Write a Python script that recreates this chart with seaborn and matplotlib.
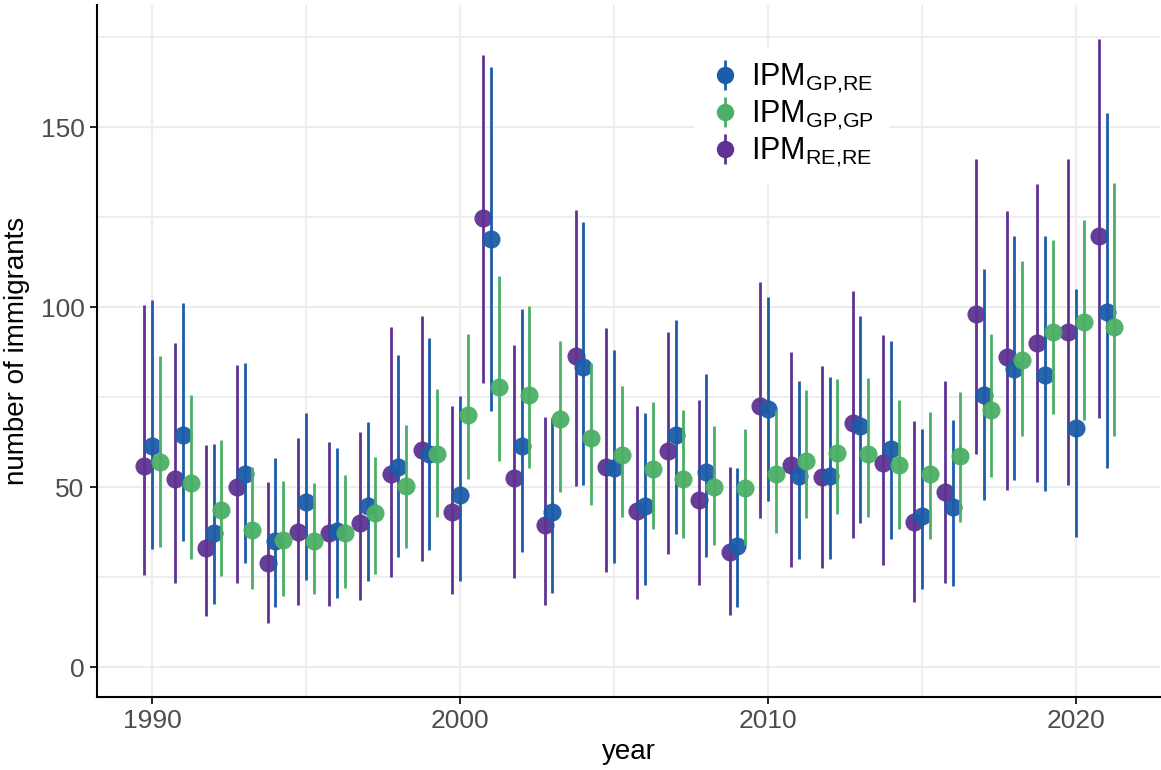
import numpy as np
import pandas as pd
import matplotlib
matplotlib.use("Agg")
import matplotlib.pyplot as plt
import seaborn as sns
from matplotlib.lines import Line2D
from matplotlib.legend_handler import HandlerTuple
from matplotlib.ticker import MultipleLocator

years = list(range(1990, 2022))

# IPM_RE,RE (purple)
re_re_mean = [55.9, 52.2, 33.2, 50.0, 28.9, 37.6, 37.2, 40.0, 53.6, 60.4, 43.1, 124.7, 52.5, 39.4, 86.3, 55.5,
              43.4, 59.9, 46.4, 31.9, 72.5, 56.0, 52.9, 67.7, 56.8, 40.2, 48.7, 98.2, 86.0, 89.9, 93.2, 119.8]
re_re_lo = [25.6, 23.4, 14.1, 23.5, 12.3, 17.2, 17.0, 18.6, 25.1, 29.4, 20.4, 78.8, 24.7, 17.2, 50.4, 26.5,
            18.8, 31.3, 22.9, 14.4, 41.3, 27.9, 27.4, 35.9, 28.3, 18.0, 23.4, 59.3, 49.2, 51.5, 50.6, 69.1]
re_re_hi = [100.7, 90.1, 61.7, 84.0, 51.5, 63.7, 62.6, 65.2, 94.4, 97.6, 72.6, 170.0, 89.4, 69.4, 126.9, 94.2,
            72.6, 93.1, 74.1, 55.6, 106.9, 87.6, 83.7, 104.6, 92.2, 68.4, 79.5, 141.0, 126.8, 134.1, 141.0, 174.5]

# IPM_GP,RE (blue)
gp_re_mean = [61.4, 64.4, 37.3, 53.5, 35.0, 45.9, 37.9, 44.8, 55.7, 59.1, 47.9, 118.8, 61.5, 43.0, 83.3, 55.4,
              44.7, 64.5, 54.3, 33.7, 71.8, 53.1, 53.2, 67.0, 60.7, 42.0, 44.5, 75.7, 82.8, 81.0, 66.5, 98.5]
gp_re_lo = [32.8, 35.1, 17.6, 28.8, 16.6, 24.3, 19.1, 24.0, 30.7, 32.5, 24.0, 71.1, 31.9, 20.7, 50.7, 28.8,
            22.7, 37.0, 30.5, 16.6, 46.1, 30.1, 29.9, 39.9, 35.6, 21.8, 22.5, 46.3, 51.9, 48.9, 36.2, 55.2]
gp_re_hi = [101.9, 101.1, 62.1, 84.6, 58.2, 70.5, 60.9, 68.0, 86.8, 91.5, 75.3, 166.8, 99.4, 69.1, 123.5, 88.1,
            70.6, 96.4, 81.4, 55.2, 102.7, 79.6, 80.6, 97.5, 90.6, 66.0, 68.7, 110.7, 119.8, 119.7, 104.9, 153.8]

# IPM_GP,GP (green)
gp_gp_mean = [56.9, 51.0, 43.6, 38.0, 35.3, 35.0, 37.3, 42.7, 50.3, 59.2, 69.9, 77.9, 75.7, 69.0, 63.7, 58.8,
              55.0, 52.2, 50.0, 49.8, 53.5, 57.2, 59.5, 59.3, 56.0, 53.7, 58.7, 71.4, 85.3, 93.2, 95.9, 94.6]
gp_gp_lo = [33.3, 30.0, 25.4, 21.8, 19.7, 20.3, 22.1, 26.0, 33.2, 41.8, 52.2, 57.3, 55.4, 48.7, 45.1, 41.7,
            38.4, 35.9, 33.8, 34.0, 37.3, 41.3, 42.4, 41.8, 38.5, 35.6, 40.2, 52.7, 64.1, 70.2, 68.7, 64.1]
gp_gp_hi = [86.4, 75.5, 63.1, 55.6, 51.7, 51.2, 53.4, 58.4, 67.3, 77.3, 92.5, 108.6, 100.4, 90.6, 84.6, 78.2,
            73.5, 71.5, 66.9, 66.0, 71.4, 76.9, 80.0, 80.3, 74.1, 70.9, 76.4, 92.5, 112.7, 118.6, 124.3, 134.6]

series_keys = ["RE,RE", "GP,RE", "GP,GP"]
series_labels = {"GP,RE": r"IPM$_{\mathrm{GP{,}RE}}$",
                 "GP,GP": r"IPM$_{\mathrm{GP{,}GP}}$",
                 "RE,RE": r"IPM$_{\mathrm{RE{,}RE}}$"}
colors = {"RE,RE": "#5E3393", "GP,RE": "#1C5CA8", "GP,GP": "#4CAF66"}
dodge = {"RE,RE": -0.25, "GP,RE": 0.0, "GP,GP": 0.25}

frames = []
for key, m, lo, hi in [("RE,RE", re_re_mean, re_re_lo, re_re_hi),
                       ("GP,RE", gp_re_mean, gp_re_lo, gp_re_hi),
                       ("GP,GP", gp_gp_mean, gp_gp_lo, gp_gp_hi)]:
    frames.append(pd.DataFrame({"year": years, "mean": m, "lo": lo, "hi": hi, "series": key}))
df = pd.concat(frames, ignore_index=True)
df["xpos"] = df["year"] + df["series"].map(dodge)

sns.set_theme(style="white")
plt.rcParams["font.family"] = ["Liberation Sans", "DejaVu Sans"]
plt.rcParams["mathtext.fontset"] = "custom"
plt.rcParams["mathtext.rm"] = "Liberation Sans"
plt.rcParams["mathtext.it"] = "Liberation Sans:italic"
plt.rcParams["mathtext.bf"] = "Liberation Sans:bold"

fig = plt.figure(figsize=(11.61, 7.70), dpi=100)
ax = fig.add_axes([97 / 1161, 73 / 770, 1063 / 1161, 692 / 770])

z = 3
for key in series_keys:
    sub = df[df["series"] == key]
    ax.vlines(sub["xpos"], sub["lo"], sub["hi"], color=colors[key], lw=2.0, zorder=z)
    sns.scatterplot(data=sub, x="xpos", y="mean", color=colors[key], s=170, linewidth=0,
                    alpha=0.95, ax=ax, zorder=z + 0.5, legend=False)
    z += 1

ax.set_xlim(1988.21, 2022.73)
ax.set_ylim(-8.3, 183.9)
ax.xaxis.set_major_locator(MultipleLocator(10))
ax.xaxis.set_minor_locator(MultipleLocator(5))
ax.yaxis.set_major_locator(MultipleLocator(50))
ax.yaxis.set_minor_locator(MultipleLocator(25))
ax.grid(which="major", color="#EDEDED", lw=1.6)
ax.grid(which="minor", color="#EDEDED", lw=1.3)
ax.set_axisbelow(True)

for s in ["top", "right"]:
    ax.spines[s].set_visible(False)
for s in ["left", "bottom"]:
    ax.spines[s].set_color("black")
    ax.spines[s].set_linewidth(1.5)

ax.tick_params(which="major", length=5, width=1.2, color="black", labelcolor="#4D4D4D",
               labelsize=19, pad=4, left=True, bottom=True)
ax.tick_params(which="minor", length=0)

ax.set_xlabel("year", fontsize=20, color="black", labelpad=4)
ax.set_ylabel("number of immigrants", fontsize=20, color="black", labelpad=8)

legend_order = ["GP,RE", "GP,GP", "RE,RE"]
handles = []
for key in legend_order:
    vline = Line2D([], [], marker="|", markersize=21, markeredgewidth=2.0, color=colors[key], linestyle="")
    dot = Line2D([], [], marker="o", markersize=11.5, color=colors[key], linestyle="")
    handles.append((vline, dot))
leg = ax.legend(handles, [series_labels[k] for k in legend_order],
                handler_map={tuple: HandlerTuple(ndivide=1)},
                loc="upper left", bbox_to_anchor=(0.562, 0.94), fontsize=22,
                frameon=True, facecolor="white", edgecolor="none", framealpha=1,
                handlelength=1.0, handletextpad=0.35, labelspacing=0.12, borderpad=0.5,
                borderaxespad=0)
for t in leg.get_texts():
    t.set_color("black")

fig.savefig("out.png", dpi=100)
